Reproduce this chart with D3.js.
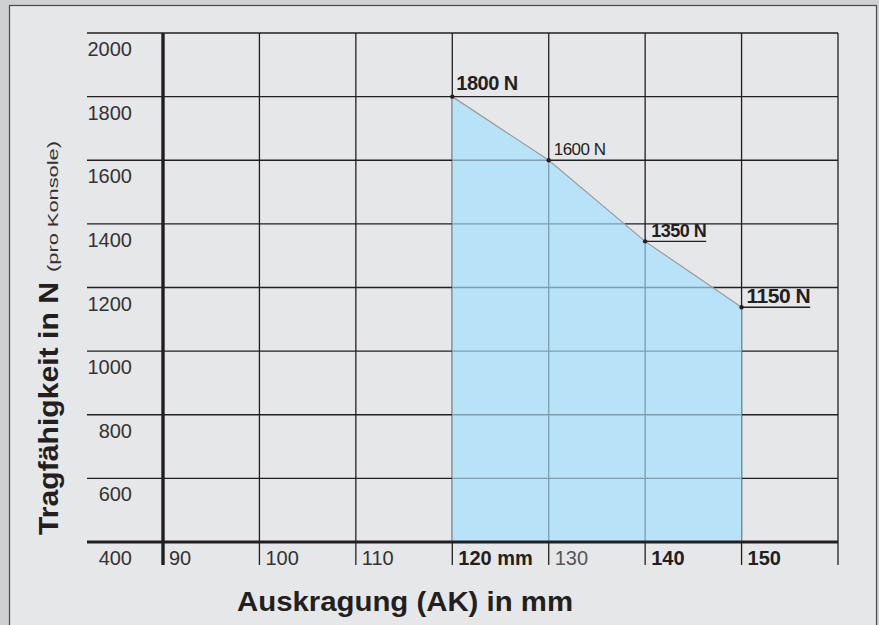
<!DOCTYPE html>
<html>
<head>
<meta charset="utf-8">
<script src="https://cdn.jsdelivr.net/npm/d3@7"></script>
<style>
  body { margin: 0; background: #cfd0d2; }
  svg { display: block; font-family: "Liberation Sans", Arial, sans-serif; }
</style>
</head>
<body>
<svg width="879" height="625"></svg>
<script>
// data
var loadX = [120, 130, 140, 150];           // Auskragung in mm
var loadY = [1800, 1600, 1345, 1138];       // plotted position of each point
var loadLabels = ["1800 N", "1600 N", "1350 N", "1150 N"];
var xTicks = [90, 100, 110, 120, 130, 140, 150, 160];
var xTickLabels = ["90", "100", "110", "120 mm", "130", "140", "150", ""];
var xTickBold = [false, false, false, true, false, true, true, false];
var yTicks = [400, 600, 800, 1000, 1200, 1400, 1600, 1800, 2000];

// label styling for each point (bold, size, underline, dx, dy)
var labelStyle = [
  {bold: true,  size: 20, under: false, dx: 4, dy: -7},
  {bold: false, size: 17, under: false, dx: 5, dy: -5},
  {bold: true,  size: 18, under: true,  dx: 6, dy: -4},
  {bold: true,  size: 21, under: true,  dx: 5, dy: -4}
];

var ink = "#231f20";
var svg = d3.select("svg");

// background frame
svg.append("rect").attr("x", 0).attr("y", 0).attr("width", 879).attr("height", 625).attr("fill", "#cfd0d2");
svg.append("rect").attr("x", 9.5).attr("y", 5.5).attr("width", 867).attr("height", 640)
  .attr("fill", "#e6e7e9").attr("stroke", "#4a4a4a").attr("stroke-width", 1.2);

var x = d3.scaleLinear().domain([90, 160]).range([163, 838]);
var y = d3.scaleLinear().domain([400, 2000]).range([542, 33]);
var gridLeft = 87, tickBottom = 565;

//Horizontal grid lines
svg.selectAll(".hgrid").data(yTicks.filter(function(d){ return d > 400; }))
  .enter().append("line")
  .attr("x1", gridLeft).attr("x2", x(160))
  .attr("y1", function(d){ return y(d); }).attr("y2", function(d){ return y(d); })
  .attr("stroke", ink).attr("stroke-width", 1.3);

//Vertical grid lines (run down into tick marks)
svg.selectAll(".vgrid").data(xTicks.filter(function(d){ return d > 90; }))
  .enter().append("line")
  .attr("x1", function(d){ return x(d); }).attr("x2", function(d){ return x(d); })
  .attr("y1", y(2000)).attr("y2", tickBottom)
  .attr("stroke", ink).attr("stroke-width", 1.3);

// area under the load curve
var pts = loadX.map(function(v, i){ return [v, loadY[i]]; });
var area = d3.area().x(function(d){ return x(d[0]); }).y0(y(400)).y1(function(d){ return y(d[1]); });
svg.append("path").datum(pts).attr("d", area).attr("fill", "#b8e2f8");

// grid lines seen through the fill are lighter
svg.append("clipPath").attr("id", "fillclip").append("path").datum(pts).attr("d", area);
var inner = svg.append("g").attr("clip-path", "url(#fillclip)");
inner.selectAll("line.h").data(yTicks.filter(function(d){ return d > 400; }))
  .enter().append("line")
  .attr("x1", gridLeft).attr("x2", x(160))
  .attr("y1", function(d){ return y(d); }).attr("y2", function(d){ return y(d); })
  .attr("stroke", "#7e9dae").attr("stroke-width", 1.3);
inner.selectAll("line.v").data(xTicks.filter(function(d){ return d > loadX[0] && d < loadX[loadX.length - 1]; }))
  .enter().append("line")
  .attr("x1", function(d){ return x(d); }).attr("x2", function(d){ return x(d); })
  .attr("y1", y(2000)).attr("y2", y(400))
  .attr("stroke", "#7e9dae").attr("stroke-width", 1.3);

// the curve itself
svg.append("path").datum(pts)
  .attr("d", d3.line().x(function(d){ return x(d[0]); }).y(function(d){ return y(d[1]); }))
  .attr("fill", "none").attr("stroke", "#9a9a9a").attr("stroke-width", 1.2);

//Axes (thick)
svg.append("line").attr("x1", gridLeft).attr("x2", x(160)).attr("y1", y(400)).attr("y2", y(400))
  .attr("stroke", ink).attr("stroke-width", 3.2);
svg.append("line").attr("x1", x(90)).attr("x2", x(90)).attr("y1", y(2000)).attr("y2", tickBottom)
  .attr("stroke", ink).attr("stroke-width", 3.4);

// points
svg.selectAll(".pt").data(pts).enter().append("circle")
  .attr("cx", function(d){ return x(d[0]); }).attr("cy", function(d){ return y(d[1]); })
  .attr("r", 2.2).attr("fill", ink);

// point labels
pts.forEach(function(d, i){
  var s = labelStyle[i];
  var px = x(d[0]), py = y(d[1]);
  var t = svg.append("text")
    .attr("x", px + s.dx).attr("y", py + s.dy)
    .attr("font-size", s.size).attr("font-weight", s.bold ? "bold" : "normal")
    .attr("fill", ink).attr("letter-spacing", -0.5)
    .text(loadLabels[i]);
  if (s.under) {
    var w = t.node().getComputedTextLength();
    svg.append("line").attr("x1", px).attr("x2", px + s.dx + w)
      .attr("y1", py).attr("y2", py)
      .attr("stroke", ink).attr("stroke-width", 1.4);
  }
});

// y tick labels
svg.selectAll(".ylab").data(yTicks).enter().append("text")
  .attr("x", 132).attr("y", function(d){ return y(d) + 23; })
  .attr("text-anchor", "end").attr("font-size", 20).attr("fill", "#333")
  .text(function(d){ return d; });

// x tick labels
svg.selectAll(".xlab").data(xTicks).enter().append("text")
  .attr("x", function(d){ return x(d) + 6; }).attr("y", tickBottom)
  .attr("font-size", 20)
  .attr("font-weight", function(d, i){ return xTickBold[i] ? "bold" : "normal"; })
  .attr("fill", function(d, i){ return xTickBold[i] ? ink : (d == 130 ? "#555" : "#333"); })
  .text(function(d, i){ return xTickLabels[i]; });

// axis titles
svg.append("text").attr("x", 405).attr("y", 611).attr("text-anchor", "middle")
  .attr("font-size", 28).attr("font-weight", "bold").attr("fill", ink)
  .attr("textLength", 336).attr("lengthAdjust", "spacingAndGlyphs")
  .text("Auskragung (AK) in mm");

var yTitle = svg.append("g").attr("transform", "translate(58,535) rotate(-90)");
yTitle.append("text").attr("x", 0).attr("y", 0)
  .attr("font-size", 27).attr("font-weight", "bold").attr("fill", ink)
  .attr("textLength", 253).attr("lengthAdjust", "spacingAndGlyphs")
  .text("Tragfähigkeit in N");
yTitle.append("text").attr("x", 263).attr("y", 0)
  .attr("font-size", 15).attr("fill", "#333")
  .attr("textLength", 131).attr("lengthAdjust", "spacingAndGlyphs")
  .text("(pro Konsole)");
</script>
</body>
</html>
